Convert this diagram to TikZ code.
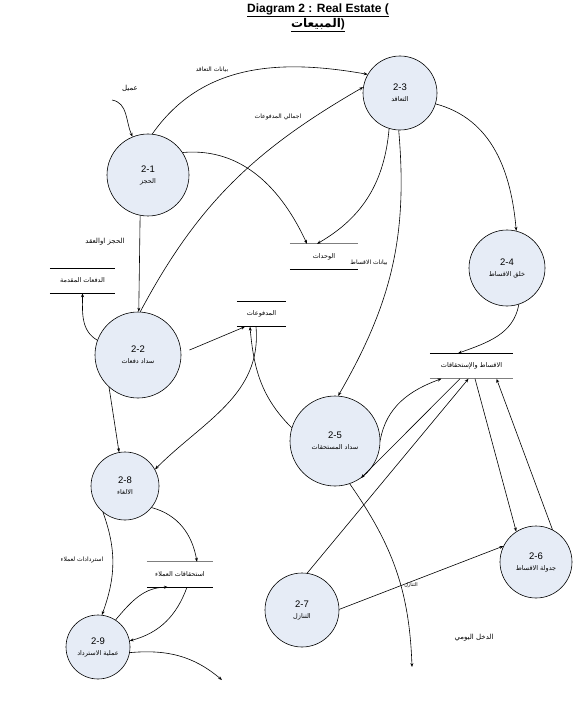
\documentclass[tikz,border=0pt]{standalone}
\usepackage{fontspec}
\setmainfont{Liberation Sans}
\newfontfamily\arabicfont[Script=Arabic]{DejaVu Sans}
\TeXXeTstate=1
\usetikzlibrary{arrows.meta, calc}
\definecolor{PBlue}{HTML}{E6ECF6}
\definecolor{DGray}{HTML}{7F7F7F}
\tikzset{
  flow/.style={draw=black, line width=0.6pt, -{Stealth[length=4pt, width=3pt]}},
  process/.style={circle, draw=black, line width=0.6pt, fill=PBlue, inner sep=0pt,
    minimum size=#1, align=center, font=\fontsize{9.5}{10}\selectfont},
  store/.style={inner sep=0pt, minimum height=25pt, font=\arabicfont\fontsize{6.5}{8}\selectfont},
  flowlabel/.style={inner sep=0pt, font=\arabicfont\fontsize{#1}{8}\selectfont},
  flowlabel/.default=6,
}
\NewDocumentCommand{\DataStore}{O{black} O{black} m m m m}{%
  \node[store, minimum width=#5] (#3) at #4 {#6};
  \draw[line width=0.6pt, #1] (#3.north west) -- (#3.north east);
  \draw[line width=0.6pt, #2] (#3.south west) -- (#3.south east);
}
\NewDocumentCommand{\ProcText}{m m}{#1\\[1pt]{\arabicfont\fontsize{6.5}{8}\selectfont #2}}

\begin{document}
\begin{tikzpicture}[x=1pt, y=1pt]
\fill[white] (0,0) rectangle (577,-727);
\useasboundingbox (0,0) rectangle (577,-727);

\node[font=\bfseries\fontsize{12}{15}\selectfont, align=center] (title) at (318,-18)
  {\underline{Diagram 2 : Real Estate (}\\\underline{{\arabicfont\beginR المبيعات\endR})}};

% processes
\node[process=82pt] (p21) at (148,-175) {\ProcText{2-1}{\beginR الحجز\endR}};
\node[process=86pt] (p22) at (138,-355) {\ProcText{2-2}{\beginR سداد دفعات\endR}};
\node[process=74pt] (p23) at (400,-93)  {\ProcText{2-3}{\beginR التعاقد\endR}};
\node[process=76pt] (p24) at (507,-268) {\ProcText{2-4}{\beginR خلق الاقساط\endR}};
\node[process=90pt] (p25) at (335,-441) {\ProcText{2-5}{\beginR سداد المستحقات\endR}};
\node[process=72pt] (p26) at (536,-562) {\ProcText{2-6}{\beginR جدولة الاقساط\endR}};
\node[process=74pt] (p27) at (302,-610) {\ProcText{2-7}{\beginR التنازل\endR}};
\node[process=68pt] (p28) at (125,-486) {\ProcText{2-8}{\beginR الالغاء\endR}};
\node[process=64pt] (p29) at (98,-647)  {\ProcText{2-9}{\beginR عملية الاسترداد\endR}};

% data stores
\DataStore{adv}{(82.5,-280.5)}{65pt}{\beginR الدفعات المقدمة\endR}
\DataStore[DGray, line width=1.3pt]{units}{(324,-256.5)}{68pt}{\beginR الوحدات\endR}
\DataStore{pay}{(261.5,-314)}{49pt}{\beginR المدفوعات\endR}
\DataStore[black][DGray, line width=1.3pt]{inst}{(471.5,-366)}{83pt}{\beginR الاقساط والإستحقاقات\endR}
\DataStore[DGray, line width=1.3pt]{cust}{(180,-574.5)}{66pt}{\beginR استحقاقات العملاء\endR}

% flow labels
\node[flowlabel=7] (lclient) at (130,-88) {\beginR عميل\endR};
\node[flowlabel] (lcontract) at (212,-70) {\beginR بيانات التعاقد\endR};
\node[flowlabel] (lpaytotal) at (278,-117) {\beginR اجمالي المدفوعات\endR};
\node[flowlabel=7] (lbooking) at (105,-242) {\beginR الحجز اوالعقد\endR};
\node[flowlabel] (linstdata) at (369,-263) {\beginR بيانات الاقساط\endR};
\node[flowlabel] (lrefunds) at (82,-560) {\beginR استردادات لعملاء\endR};
\node[flowlabel=5] (ltransfer) at (411,-585) {\beginR التنازل\endR};
\node[flowlabel=7] (lincome) at (474,-638) {\beginR الدخل اليومي\endR};

\coordinate (client) at (112,-100);
\coordinate (refundout) at (222,-680);
\coordinate (incomeout) at (412,-667);

% flows
\draw[flow] (client) to[out=-10, in=115] (p21.112);
\draw[flow] (p21.84) to[out=55, in=170] (p23.150);
\draw[flow] (p22.87) to[out=62, in=210] (p23.171);
\draw[flow] (p21.33) to[out=5, in=115] ([xshift=-17pt]units.north);
\draw[flow] (p23.253) to[out=265, in=30] ([xshift=-7pt]units.north);
\draw[flow] (p23.268) to[out=275, in=60] (p25.86);
\draw[flow] (p23.343) to[out=-15, in=95] (p24.76);
\draw[flow] (p24.288) to[out=-100, in=20] ([xshift=-13.5pt]inst.north);
\draw[flow, shorten <=9pt] (p22.2) -- ([xshift=-16.5pt]pay.south);
\draw[flow] ([xshift=-5.5pt]pay.south) to[out=-85, in=45] (p28.29);
\draw[flow] (p25.163) to[out=135, in=-85] ([xshift=-11.5pt]pay.south);
\draw[flow] (p21.259) -- (p22.89);
\draw[flow] (p22.160) to[out=150, in=-90] (adv.south);
\draw[flow] (p22.228) -- (p28.100);
\draw[flow] (p28.321) to[out=-15, in=100] ([xshift=17pt]cust.north);
\draw[flow] (p28.230) to[out=-70, in=70] (p29.83);
\draw[flow] (p29.57) to[out=50, in=180] ([xshift=-12pt]cust.south);
\draw[flow] ([xshift=7pt]cust.south) to[out=-110, in=15] (p29.11);
\draw[flow] (p29.350) to[out=5, in=140] (refundout);
\draw[flow] (p25.289) to[out=-55, in=92] (incomeout);
\draw[flow] (p25.1) to[out=80, in=200] ([xshift=-30pt]inst.south);
\draw[flow] ([xshift=-11.5pt]inst.south) -- (p25.305);
\draw[flow] (p27.82) -- ([xshift=-3pt]inst.south);
\draw[flow] ([xshift=3.5pt]inst.south) -- (p26.123);
\draw[flow] (p26.63) -- ([xshift=25pt]inst.south);
\draw[flow] (p27.1) -- (p26.154);
\end{tikzpicture}
\end{document}
